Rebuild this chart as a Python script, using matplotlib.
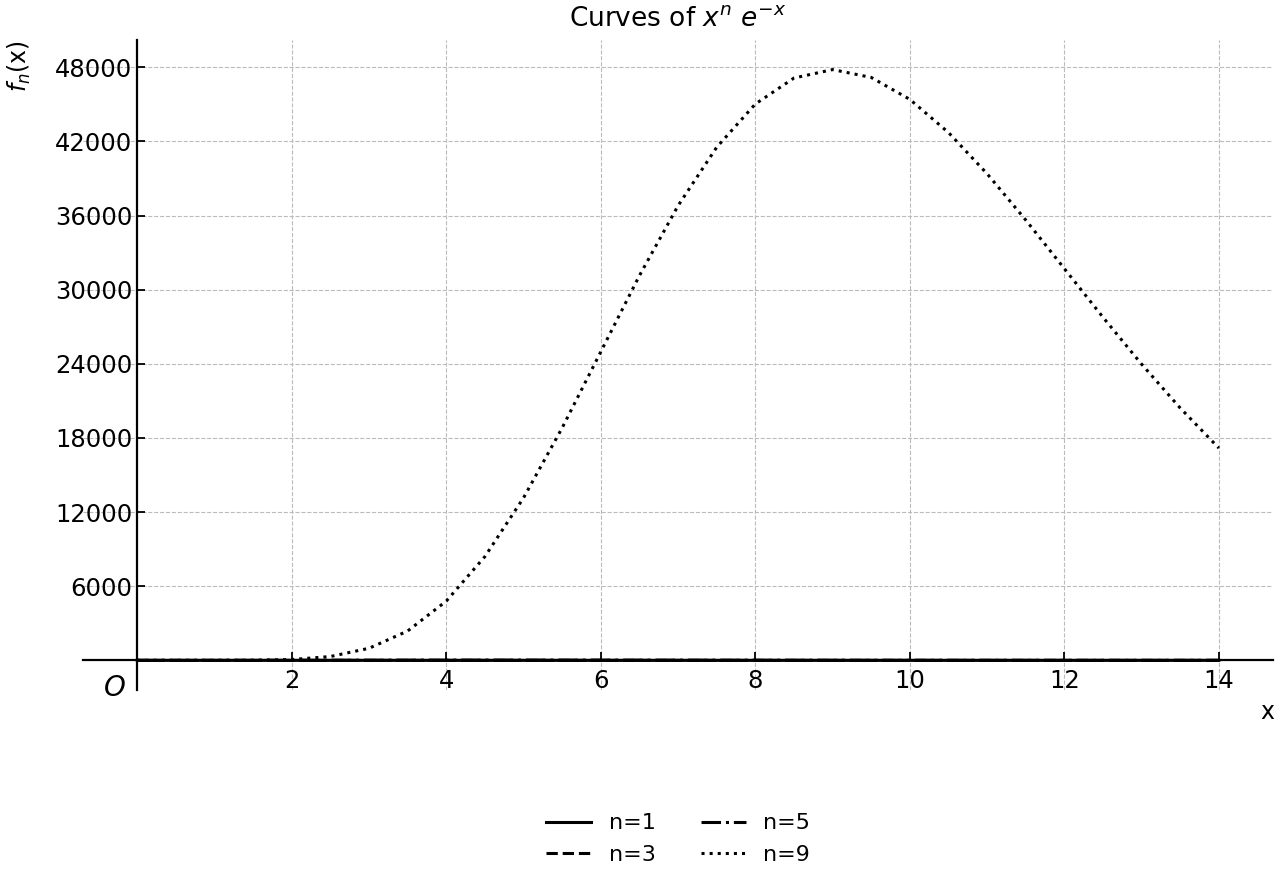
import numpy as np
import matplotlib.pyplot as plt


# sample points along x (step 0.5)
x_vals = [0, 0.5, 1, 1.5, 2, 2.5, 3, 3.5, 4, 4.5, 5, 5.5, 6, 6.5, 7, 7.5,
          8, 8.5, 9, 9.5, 10, 10.5, 11, 11.5, 12, 12.5, 13, 13.5, 14]

# values
f1 = [0, 0.30, 0.37, 0.33, 0.27, 0.21, 0.15, 0.11, 0.07, 0.05, 0.03, 0.02,
      0.015, 0.01, 0.006, 0.004, 0.003, 0.002, 0.001, 0.001, 0.0005, 0.0003,
      0.0002, 0.0001, 0.0001, 0.0, 0.0, 0.0, 0.0]
f3 = [0, 0.076, 0.37, 0.75, 1.08, 1.28, 1.34, 1.29, 1.17, 1.01, 0.84, 0.68,
      0.54, 0.41, 0.31, 0.23, 0.17, 0.12, 0.09, 0.06, 0.045, 0.03, 0.02,
      0.015, 0.01, 0.007, 0.005, 0.003, 0.002]
f5 = [0, 0.019, 0.37, 1.69, 4.33, 8.02, 12.1, 15.9, 18.8, 20.4, 21.1, 20.6,
      19.3, 17.5, 15.3, 13.1, 11.0, 9.0, 7.3, 5.8, 4.5, 3.5, 2.7, 2.1, 1.5,
      1.1, 0.84, 0.61, 0.45]
f9 = [0, 0.001, 0.37, 8.6, 69, 313, 980, 2380, 4801, 8406, 13160, 18821,
      24980, 31139, 36798, 41528, 45025, 47127, 47812, 47175, 45400, 42717,
      39382, 35637, 31703, 27766, 23970, 20419, 17180]

series = [(f1, 'n=1', '-'), (f3, 'n=3', '--'), (f5, 'n=5', '-.'), (f9, 'n=9', ':')]

fig = plt.figure(figsize=(12.8, 8.8), dpi=100)
ax = fig.add_axes([0.065, 0.216, 0.9295, 0.7385])

for vals, lab, ls in series:
    ax.plot(x_vals, vals, color='black', linestyle=ls, linewidth=2.2, label=lab)

ymax = max(f9)
ax.set_xlim(-0.05 * 14, 14 * 1.05)
ax.set_ylim(-0.05 * ymax, 1.05 * ymax)

ax.spines['left'].set_position(('data', 0))
ax.spines['bottom'].set_position(('data', 0))
ax.spines['right'].set_visible(False)
ax.spines['top'].set_visible(False)
ax.spines['left'].set_linewidth(1.6)
ax.spines['bottom'].set_linewidth(1.6)

ax.set_xticks(np.arange(2, 15, 2))
ax.set_yticks(np.arange(6000, 48001, 6000))
ax.tick_params(direction='in', labelsize=17.5, length=6, width=1.3)
ax.tick_params(axis='x', pad=6)
ax.grid(True, linestyle='--', color='#bbbbbb', linewidth=0.8)

ax.text(-0.15, -2200, '$O$', fontsize=20, ha='right', va='center')
ax.annotate('x', xy=(1.0, 0), xycoords='axes fraction', xytext=(1267, 168),
            textcoords='figure pixels', fontsize=17, ha='center', va='center')
fig.text(19 / 1280, 1 - 66 / 880, '$f_n$(x)', rotation=90, fontsize=17,
         ha='center', va='center')
ax.set_title('Curves of $x^n$ $e^{-x}$', fontsize=19, pad=10)

fig.legend(loc='center', bbox_to_anchor=(0.53, 1 - 839 / 880), ncol=2,
           frameon=False, fontsize=16, handlelength=2.0, columnspacing=2.05)

fig.savefig('out.png', dpi=100)
